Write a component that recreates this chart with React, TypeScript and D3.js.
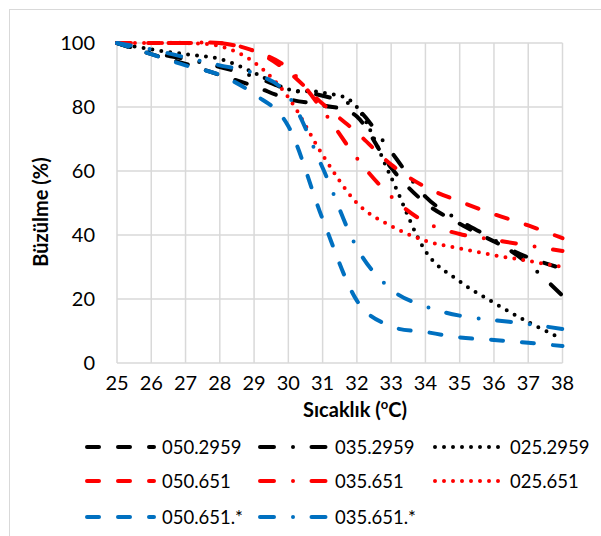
import React from "react";
import * as d3 from "d3";

const temps = [25, 26, 27, 28, 29, 30, 31, 32, 33, 34, 35, 36, 37, 38];
const yTicks = [0, 20, 40, 60, 80, 100];

const s050_2959 = [100, 96.5, 93.5, 90, 86.5, 82.5, 80.5, 77, 61, 50, 43.5, 38, 33, 29.5];
const s035_2959 = [100, 97, 95, 92.5, 89.5, 85.5, 83.5, 79.5, 66, 52, 44.5, 38.5, 31, 21];
const s025_2959 = [100, 98, 96.5, 95, 90.7, 85.5, 84.5, 80, 58, 35, 25.5, 18.8, 12.8, 7.5];
const s050_651 = [100, 100, 100, 100, 97.5, 91, 81, 72, 62, 55, 50.5, 46.5, 43, 39];
const s035_651 = [100, 100, 100, 100, 97.5, 92, 79, 64, 52, 44, 40.3, 38.5, 36.7, 35];
const s025_651 = [100, 100, 100, 99, 94, 83, 65, 50, 42.8, 38.2, 35.8, 33.7, 31.9, 30];
const s050_651s = [100, 96.5, 93, 90, 84, 74, 45, 19.5, 11.5, 9.7, 8, 7.2, 6.3, 5.3];
const s035_651s = [100, 98, 95.5, 93, 90.5, 83.5, 61, 36, 23, 17.7, 14.8, 13.4, 12.2, 10.6];

const BLACK = "#000000";
const RED = "#FF0000";
const BLUE = "#0070C0";

const DASH = "12 19";
const DASHDOT = "14 19 0 18.5";
const DOT = "0 9";

const series = [
  { name: "050.2959", values: s050_2959, color: BLACK, dash: DASH },
  { name: "035.2959", values: s035_2959, color: BLACK, dash: DASHDOT },
  { name: "025.2959", values: s025_2959, color: BLACK, dash: DOT },
  { name: "050.651", values: s050_651, color: RED, dash: DASH },
  { name: "035.651", values: s035_651, color: RED, dash: DASHDOT },
  { name: "025.651", values: s025_651, color: RED, dash: DOT },
  { name: "050.651.*", values: s050_651s, color: BLUE, dash: DASH },
  { name: "035.651.*", values: s035_651s, color: BLUE, dash: DASHDOT },
];

const W = 601;
const H = 536;
const left = 117;
const right = 562.5;
const top = 43;
const bottom = 363;
const FONT = "Lato, 'Open Sans', sans-serif";

export default function App() {
  const x = d3.scaleLinear().domain([25, 38]).range([left, right]);
  const y = d3.scaleLinear().domain([0, 100]).range([bottom, top]);

  const line = d3
    .line<number>()
    .x((_, i) => x(temps[i]))
    .y((d) => y(d))
    .curve(d3.curveCardinal.tension(0));

  const legendCols = [85, 258, 433];
  const legendRows = [447, 481, 517];

  return (
    <svg width={W} height={H} style={{ position: "absolute", left: 0, top: 0 }}>
      <rect x={0} y={0} width={W} height={H} fill="#fff" />
      <rect x={9.5} y={9.5} width={W + 20} height={H + 20} fill="none" stroke="#D9D9D9" strokeWidth={1} />

      {/* grid */}
      {temps.map((t) => (
        <line key={"vx" + t} x1={x(t)} x2={x(t)} y1={top} y2={bottom} stroke="#D9D9D9" strokeWidth={1.5} />
      ))}
      {yTicks.map((v) => (
        <line key={"hy" + v} x1={left} x2={right} y1={y(v)} y2={y(v)} stroke="#D9D9D9" strokeWidth={1.5} />
      ))}

      {/* tick labels */}
      {yTicks.map((v) => (
        <text key={"yt" + v} x={95} y={y(v) + 7} textAnchor="end" fontFamily={FONT} fontSize={20} fill="#000">
          {v}
        </text>
      ))}
      {temps.map((t) => (
        <text key={"xt" + t} x={x(t)} y={390} textAnchor="middle" fontFamily={FONT} fontSize={20} fill="#000">
          {t}
        </text>
      ))}

      {/* axis titles */}
      <text x={355} y={417} textAnchor="middle" fontFamily={FONT} fontSize={20} fontWeight="bold" fill="#000">
        Sıcaklık (<tspan fontSize={13} dy={-8}>o</tspan>
        <tspan dy={8}>C)</tspan>
      </text>
      <text
        transform={`translate(48, 212) rotate(-90)`}
        textAnchor="middle"
        fontFamily={FONT}
        fontSize={20}
        fontWeight="bold"
        fill="#000"
      >
        Büzülme (%)
      </text>

      {/* series */}
      {series.map((s) => (
        <path
          key={s.name}
          d={line(s.values) || ""}
          fill="none"
          stroke={s.color}
          strokeWidth={4}
          strokeLinecap="round"
          strokeDasharray={s.dash}
        />
      ))}

      {/* legend */}
      {series.map((s, i) => {
        const cx = legendCols[i % 3];
        const cy = legendRows[Math.floor(i / 3)];
        return (
          <g key={"lg" + s.name}>
            <line
              x1={cx + 2}
              x2={cx + 69}
              y1={cy}
              y2={cy}
              stroke={s.color}
              strokeWidth={4}
              strokeLinecap="round"
              strokeDasharray={s.dash}
            />
            <text x={cx + 77} y={cy + 7} fontFamily={FONT} fontSize={18.5} fill="#000">
              {s.name}
            </text>
          </g>
        );
      })}
    </svg>
  );
}
